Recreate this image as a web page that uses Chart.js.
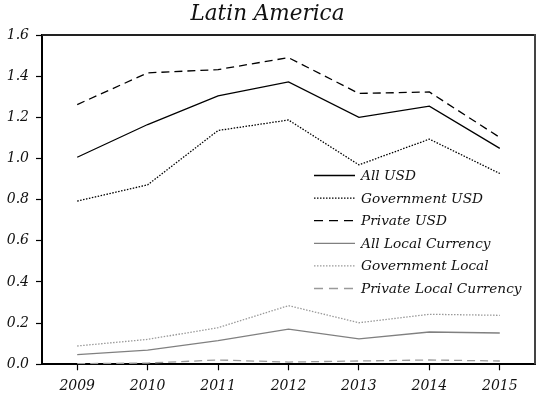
<!DOCTYPE html>
<html>
<head>
<meta charset="utf-8">
<script src="https://cdn.jsdelivr.net/npm/chart.js@4.4.1/dist/chart.umd.min.js"></script>
<style>
  html, body { margin: 0; padding: 0; background: #fff; }
  #wrap { width: 537px; height: 399px; }
</style>
</head>
<body>
<div id="wrap"><canvas id="c" width="537" height="399"></canvas></div>
<script>
// Years on the x axis
const years = ['2009', '2010', '2011', '2012', '2013', '2014', '2015'];

// Series values
const allUSD        = [1.006, 1.165, 1.304, 1.372, 1.200, 1.254, 1.049];
const govUSD        = [0.793, 0.872, 1.136, 1.187, 0.969, 1.094, 0.927];
const privUSD       = [1.262, 1.416, 1.432, 1.490, 1.316, 1.323, 1.102];
const allLocal      = [0.047, 0.069, 0.115, 0.171, 0.124, 0.157, 0.152];
const govLocal      = [0.089, 0.121, 0.178, 0.285, 0.202, 0.243, 0.238];
const privLocal     = [0.003, 0.006, 0.021, 0.011, 0.016, 0.021, 0.016];

// Y tick values
const yTicks = [0.0, 0.2, 0.4, 0.6, 0.8, 1.0, 1.2, 1.4, 1.6];

const FONT = '"DejaVu Serif", serif';

function series(label, data, color, dash, width) {
  return {
    label, data,
    borderColor: color,
    backgroundColor: color,
    borderDash: dash,
    borderWidth: width,
    pointRadius: 0,
    pointHoverRadius: 0,
    tension: 0,
    fill: false
  };
}

// Legend drawn inside the plot area, right side
const innerLegend = {
  id: 'innerLegend',
  afterDatasetsDraw(chart) {
    const ctx = chart.ctx;
    const x0 = 314, x1 = 355, tx = 361, y0 = 175.5, step = 22.6;
    ctx.save();
    ctx.font = 'italic 13.7px ' + FONT;
    ctx.textBaseline = 'middle';
    ctx.textAlign = 'left';
    chart.data.datasets.forEach((ds, i) => {
      const y = y0 + i * step;
      ctx.beginPath();
      ctx.setLineDash(ds.legendDash || ds.borderDash || []);
      ctx.strokeStyle = ds.borderColor;
      ctx.lineWidth = ds.borderWidth;
      ctx.moveTo(x0, y);
      ctx.lineTo(x1, y);
      ctx.stroke();
      ctx.setLineDash([]);
      ctx.fillStyle = '#111';
      ctx.fillText(ds.label, tx, y + 1);
    });
    ctx.restore();
  }
};

// Top and right edges of the plot frame
const frame = {
  id: 'frame',
  afterDraw(chart) {
    const a = chart.chartArea, ctx = chart.ctx;
    ctx.save();
    ctx.lineWidth = 2;
    ctx.strokeStyle = '#222';
    ctx.beginPath();
    ctx.moveTo(a.left, a.top);
    ctx.lineTo(a.right, a.top);
    ctx.stroke();
    ctx.strokeStyle = '#444';
    ctx.beginPath();
    ctx.moveTo(a.right, a.top - 1);
    ctx.lineTo(a.right, a.bottom);
    ctx.stroke();
    ctx.restore();
  }
};

const datasets = [
  series('All USD', allUSD, '#000', [], 1.3),
  series('Government USD', govUSD, '#000', [1.5, 1.5], 1.3),
  series('Private USD', privUSD, '#000', [8, 5], 1.3),
  series('All Local Currency', allLocal, '#808080', [], 1.3),
  series('Government Local', govLocal, '#9a9a9a', [1.5, 1.5], 1.3),
  series('Private Local Currency', privLocal, '#9a9a9a', [8, 5], 1.3)
];
datasets[2].legendDash = [9, 6];
datasets[5].legendDash = [9, 6];

new Chart(document.getElementById('c'), {
  type: 'line',
  data: { labels: years, datasets },
  options: {
    responsive: false,
    animation: false,
    devicePixelRatio: 1,
    layout: { padding: { left: 0, right: 2, top: 0, bottom: 0 } },
    plugins: {
      legend: { display: false },
      tooltip: { enabled: false },
      title: {
        display: true,
        text: 'Latin America',
        color: '#111',
        font: { family: FONT, size: 21.5, style: 'italic', weight: 'normal', lineHeight: 1.2 },
        padding: { top: 2, bottom: 7.2 }
      }
    },
    scales: {
      x: {
        offset: true,
        border: { display: true, color: '#000', width: 2 },
        grid: { display: true, drawOnChartArea: false, drawTicks: true, tickLength: 6, tickColor: '#000', tickWidth: 1.2, offset: false },
        ticks: { color: '#111', padding: 8, maxRotation: 0, font: { family: FONT, size: 14, style: 'italic' } },
        afterFit(s) { s.height = 34.7; }
      },
      y: {
        min: 0, max: 1.6,
        afterBuildTicks(s) { s.ticks = yTicks.map(v => ({ value: v })); },
        border: { display: true, color: '#000', width: 2 },
        grid: { display: true, drawOnChartArea: false, drawTicks: true, tickLength: 6, tickColor: '#000', tickWidth: 1.2 },
        ticks: {
          color: '#111', padding: 7,
          font: { family: FONT, size: 14, style: 'italic' },
          callback: v => Number(v).toFixed(1)
        },
        afterFit(s) { s.width = 42; }
      }
    }
  },
  plugins: [innerLegend, frame]
});
</script>
</body>
</html>
